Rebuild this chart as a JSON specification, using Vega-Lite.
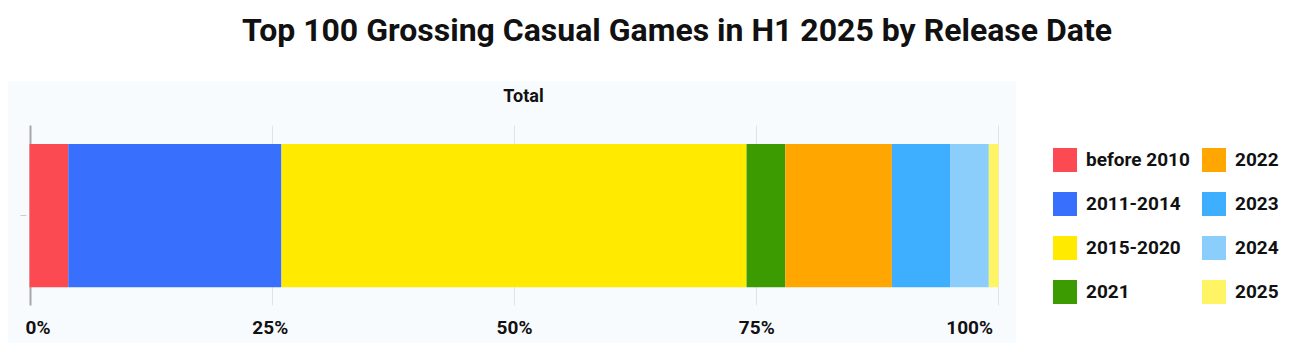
{
  "$schema": "https://vega.github.io/schema/vega-lite/v6.json",
  "width": 1008,
  "height": 262,
  "autosize": {"type": "none"},
  "padding": {"left": 8, "top": 81, "right": 292, "bottom": 15},
  "background": "white",
  "title": {
    "text": "Top 100 Grossing Casual Games in H1 2025 by Release Date",
    "font": "Roboto",
    "fontSize": 32,
    "fontWeight": "bold",
    "color": "#111111",
    "anchor": "middle",
    "frame": "group",
    "dx": 165,
    "offset": 33
  },
  "data": {
    "values": [
      {"group": "Total", "period": "before 2010", "share": 4, "rank": 1},
      {"group": "Total", "period": "2011-2014", "share": 22, "rank": 2},
      {"group": "Total", "period": "2015-2020", "share": 48, "rank": 3},
      {"group": "Total", "period": "2021", "share": 4, "rank": 4},
      {"group": "Total", "period": "2022", "share": 11, "rank": 5},
      {"group": "Total", "period": "2023", "share": 6, "rank": 6},
      {"group": "Total", "period": "2024", "share": 4, "rank": 7},
      {"group": "Total", "period": "2025", "share": 1, "rank": 8}
    ]
  },
  "mark": {"type": "bar"},
  "encoding": {
    "y": {
      "field": "group",
      "type": "nominal",
      "scale": {"paddingInner": 0, "paddingOuter": 0.414, "align": 0.531},
      "axis": {
        "orient": "left",
        "offset": -18,
        "domain": false,
        "labels": false,
        "ticks": true,
        "tickSize": 6,
        "tickColor": "#cccccc",
        "tickWidth": 1,
        "grid": false,
        "title": "Total",
        "titleAngle": 0,
        "titleX": 497,
        "titleY": 15,
        "titleAlign": "center",
        "titleBaseline": "middle",
        "titleFont": "Roboto",
        "titleFontSize": 18,
        "titleFontWeight": "bold",
        "titleColor": "#111111"
      }
    },
    "x": {
      "field": "share",
      "type": "quantitative",
      "stack": "zero",
      "scale": {"domain": [-2.2188, 101.806], "nice": false, "zero": false},
      "axis": {
        "orient": "bottom",
        "offset": -38,
        "values": [0, 25, 50, 75, 100],
        "labelExpr": "datum.value + '%'",
        "domain": false,
        "grid": false,
        "ticks": true,
        "tickSize": -180,
        "tickColor": {"condition": {"test": "datum.value === 0", "value": "#a6a6a6"}, "value": "#e3e3e3"},
        "tickWidth": {"condition": {"test": "datum.value === 0", "value": 2}, "value": 1},
        "labelFlush": false,
        "labelAlign": {"condition": [{"test": "datum.value === 0", "value": "left"}, {"test": "datum.value === 100", "value": "right"}], "value": "center"},
        "labelOffset": {"condition": [{"test": "datum.value === 0", "value": -4.5}, {"test": "datum.value === 100", "value": -6}, {"test": "datum.value === 25", "value": -2}], "value": 0},
        "labelBaseline": "middle",
        "labelPadding": 202,
        "labelFont": "Roboto",
        "labelFontSize": 19,
        "labelFontWeight": "bold",
        "labelColor": "#111111",
        "title": null
      }
    },
    "color": {
      "field": "period",
      "type": "nominal",
      "scale": {
        "domain": ["before 2010", "2011-2014", "2015-2020", "2021", "2022", "2023", "2024", "2025"],
        "range": ["#fb4a52", "#386ffd", "#ffea00", "#3c9b00", "#ffa600", "#3eaffe", "#8bcdfb", "#fff463"]
      },
      "legend": {
        "orient": "none",
        "legendX": 1045,
        "legendY": 67,
        "columns": 2,
        "title": null,
        "padding": 0,
        "symbolType": "square",
        "symbolSize": 576,
        "symbolStrokeWidth": 0,
        "labelFont": "Roboto",
        "labelFontSize": 19,
        "labelFontWeight": "bold",
        "labelColor": "#111111",
        "labelOffset": 9,
        "labelLimit": 300,
        "rowPadding": 20,
        "columnPadding": 12
      }
    },
    "order": {"field": "rank", "type": "quantitative"}
  },
  "config": {
    "view": {"fill": "#f8fbfe", "stroke": null}
  }
}
